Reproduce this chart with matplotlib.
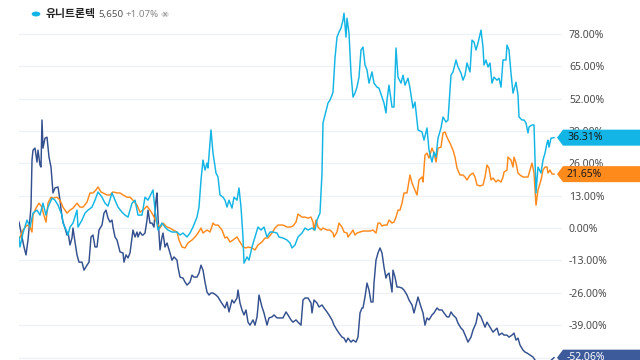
import matplotlib
matplotlib.use("Agg")
import matplotlib.pyplot as plt
from matplotlib.patches import Polygon, Circle
import numpy as np

plt.rcParams['font.family'] = ['Noto Sans CJK KR', 'DejaVu Sans']

# ---------------- data ----------------
stock_name = "유니트론텍"
stock_price = "5,650"
stock_change = "+1.07%"

y_ticks = [-52, -39, -26, -13, 0, 13, 26, 39, 52, 65, 78]

uni_days = [0, 1, 4, 8, 11, 14, 18, 21, 24, 27, 29, 33, 36, 39, 43, 44, 48, 49, 51, 54, 58, 59, 63, 66, 69,
            73, 76, 79, 83, 86, 89, 93, 96, 99, 103, 106, 109, 113, 116, 119, 123, 126, 129, 134, 136, 139,
            143, 146, 149, 153, 158, 161, 164, 168, 171, 174, 178, 180, 182, 184, 186, 188, 189, 192, 194,
            197, 199, 201, 204, 206, 208, 210, 213, 215, 218, 220, 222, 224, 225, 228, 230, 233, 236, 239,
            242, 245, 248, 251, 254, 258, 260, 264, 268, 271, 273, 276, 279, 283, 286, 289, 293, 296, 298,
            301, 303, 304, 306, 308, 309, 311, 313, 314, 316, 318, 320, 322, 324, 325, 327, 328, 330, 332,
            334, 336, 338, 340, 342, 344, 346, 348, 350, 353, 355, 358, 360, 363, 365, 367, 368, 370, 373,
            375, 377, 379, 382, 384, 386, 389, 391, 394, 396, 399, 403, 405, 408, 410, 413, 415, 417, 419,
            422, 424, 427, 429, 432, 434, 437, 439, 442, 444, 446, 448, 451, 453, 455, 457, 459, 462, 464,
            465, 467, 469, 471, 473, 475, 478, 480, 482, 484, 487, 488, 490, 492, 494, 497, 499, 500, 503,
            505, 507, 509, 510, 513, 515, 516, 517, 519, 522, 524, 526, 528, 529, 530, 532, 535]
uni_pct = [-3.6, -7.6, -2.0, 3.2, 0.4, 6.0, 7.2, 5.2, 10.0, 5.2, 8.4, 12.0, 11.2, 9.2, 5.2, 2.0, -1.6, -2.8,
           0.4, 2.0, 7.2, 0.4, 3.2, 6.0, 7.2, 8.4, 11.2, 14.5, 12.4, 10.0, 8.8, 14.1, 11.2, 8.4, 6.4, 5.2,
           4.4, 10.0, 11.2, 5.2, 5.2, 12.4, 11.2, 15.3, 7.2, -0.8, 2.0, 0.4, -0.8, -1.6, -1.6, -2.8, -2.0,
           -3.6, -2.0, 0.4, 4.4, 8.4, 19.3, 27.3, 23.3, 26.1, 24.1, 39.4, 30.1, 22.1, 20.5, 13.3, 12.4,
           11.2, 8.4, 11.2, 8.0, 12.4, 11.2, 16.1, 8.4, -3.6, -14.1, -11.6, -12.9, -7.6, -3.6, 0.4, -0.8,
           0.4, -3.6, -1.6, -1.6, -2.0, -3.6, -4.0, -4.8, -6.0, -8.0, -6.8, -3.6, -2.0, 0.0, -0.8, 0.0,
           -0.8, 3.2, 6.0, 22.1, 42.2, 45.4, 48.6, 50.2, 51.4, 53.4, 54.6, 68.3, 76.7, 78.7, 80.3, 83.5,
           86.3, 76.7, 84.3, 78.3, 62.2, 52.6, 54.2, 56.6, 60.6, 71.5, 72.7, 65.5, 63.5, 58.2, 62.7, 58.2,
           56.6, 56.2, 52.6, 50.2, 46.2, 51.4, 57.4, 48.6, 48.6, 72.3, 60.6, 58.2, 61.4, 57.4, 60.2, 56.2,
           48.2, 50.6, 39.4, 38.6, 35.3, 40.2, 31.3, 26.5, 30.5, 28.5, 36.1, 40.2, 44.6, 42.6, 43.4, 61.4,
           62.7, 67.5, 64.7, 62.2, 59.4, 61.4, 66.3, 62.7, 75.5, 74.7, 71.5, 74.3, 79.5, 72.7, 65.5, 67.5,
           64.7, 66.3, 58.2, 60.6, 59.4, 60.2, 56.6, 67.5, 67.5, 73.5, 71.5, 62.2, 54.2, 58.6, 53.4, 44.6,
           43.4, 43.4, 42.2, 38.2, 40.6, 41.4, 41.4, 27.3, 14.1, 24.5, 22.1, 27.3, 30.1, 34.1, 35.3, 32.5,
           36.1, 36.31]

org_days = [0, 4, 8, 11, 13, 14, 17, 20, 23, 24, 27, 29, 32, 34, 38, 41, 44, 48, 51, 54, 58, 61, 64, 68, 71,
            74, 77, 79, 82, 84, 88, 91, 94, 98, 101, 104, 108, 111, 114, 118, 121, 124, 128, 131, 134, 138,
            141, 144, 148, 151, 154, 158, 160, 163, 166, 169, 173, 176, 179, 182, 184, 188, 191, 194, 196,
            199, 203, 206, 208, 211, 214, 218, 221, 224, 227, 229, 233, 236, 239, 243, 246, 249, 253, 256,
            259, 264, 268, 271, 274, 277, 279, 283, 286, 289, 292, 294, 295, 297, 299, 302, 304, 308, 311,
            314, 315, 318, 320, 323, 325, 328, 329, 332, 334, 336, 338, 341, 344, 348, 351, 354, 357, 359,
            361, 363, 365, 368, 370, 373, 375, 377, 379, 381, 383, 385, 388, 389, 391, 393, 395, 398, 400,
            403, 404, 406, 408, 410, 413, 415, 417, 419, 422, 424, 426, 428, 431, 434, 436, 438, 441, 444,
            446, 448, 451, 454, 456, 458, 461, 464, 466, 468, 470, 472, 474, 477, 479, 482, 484, 485, 488,
            489, 492, 494, 495, 497, 499, 501, 504, 509, 513, 515, 517, 519, 522, 524, 526, 528, 529, 531,
            533, 535]
org_pct = [-4.8, -0.8, 1.2, 0.4, -1.6, 5.2, 8.0, 10.0, 8.4, 6.4, 2.4, 10.0, 12.4, 12.0, 12.4, 11.2, 8.4, 6.0,
           7.2, 8.0, 10.0, 8.4, 8.4, 10.4, 14.1, 14.1, 15.3, 16.5, 14.5, 14.1, 13.3, 13.3, 14.5, 14.1, 14.1,
           13.3, 12.4, 12.4, 11.2, 9.2, 6.4, 7.2, 8.8, 7.2, 5.2, 2.0, 0.0, 2.0, 0.4, 0.0, -0.8, -1.6, -4.8,
           -7.6, -8.0, -6.0, -4.8, -3.6, -2.0, 0.0, -2.0, -0.8, -1.6, 2.0, 1.2, 1.2, -0.8, -4.0, -3.6, -5.6,
           -4.8, -3.6, -5.6, -7.6, -8.0, -7.6, -8.0, -8.8, -6.8, -5.6, -4.0, -4.0, -2.0, 0.0, 1.2, 1.2, 0.4,
           0.4, 0.8, 2.4, 5.6, 4.4, 4.4, 4.0, 4.4, 2.4, -0.8, 3.2, 0.4, -0.8, 0.0, -0.8, -0.8, -2.0, -3.6,
           -1.6, 2.0, 0.4, -1.6, -2.0, -3.6, -2.0, -0.8, -2.8, -2.0, -1.6, -1.2, -1.2, -1.2, -0.8, -2.0, 2.0,
           2.0, 0.8, 1.2, 1.2, 3.2, 2.0, 2.4, 4.4, 7.2, 7.2, 10.0, 14.1, 14.1, 16.5, 21.3, 18.1, 16.1, 13.3,
           19.3, 20.5, 18.5, 29.3, 30.1, 28.1, 32.1, 30.1, 26.5, 32.1, 32.5, 38.2, 38.6, 36.5, 34.1, 31.3,
           28.5, 24.1, 21.3, 21.3, 20.5, 19.3, 21.3, 22.1, 20.5, 17.3, 16.9, 17.3, 20.5, 25.3, 24.1, 19.3,
           20.1, 18.5, 19.3, 18.5, 20.5, 22.5, 23.3, 28.5, 27.3, 24.5, 28.5, 26.1, 22.1, 21.3, 20.5, 20.5,
           26.1, 22.1, 9.2, 15.3, 19.3, 23.3, 24.5, 24.5, 22.1, 23.3, 21.7, 21.65]

nav_days = [0, 3, 5, 7, 9, 12, 13, 14, 16, 18, 19, 21, 22, 23, 24, 26, 28, 30, 32, 34, 36, 39, 41, 43, 44,
            46, 48, 49, 51, 53, 54, 56, 58, 60, 63, 65, 68, 70, 72, 74, 76, 78, 80, 83, 85, 87, 89, 91, 93,
            94, 96, 98, 101, 104, 105, 107, 109, 111, 113, 114, 116, 118, 119, 121, 123, 124, 126, 128,
            129, 131, 133, 135, 137, 138, 139, 141, 143, 144, 146, 148, 151, 153, 155, 158, 159, 161, 164,
            166, 168, 171, 173, 175, 178, 180, 182, 184, 186, 188, 190, 192, 194, 197, 199, 202, 204, 206,
            208, 210, 213, 215, 218, 219, 221, 223, 225, 227, 229, 231, 234, 236, 238, 239, 240, 243, 245,
            248, 250, 253, 255, 258, 261, 264, 267, 269, 272, 274, 277, 279, 282, 284, 286, 289, 292, 293,
            295, 298, 300, 303, 305, 308, 310, 313, 315, 318, 320, 323, 325, 327, 329, 332, 334, 337, 339,
            341, 343, 344, 346, 348, 350, 352, 354, 355, 357, 359, 361, 363, 365, 367, 368, 370, 373, 374,
            376, 378, 380, 383, 385, 388, 390, 393, 395, 397, 399, 402, 404, 406, 408, 410, 413, 415, 418,
            420, 423, 425, 428, 430, 432, 434, 437, 439, 442, 444, 447, 449, 452, 454, 457, 459, 462, 464,
            466, 468, 471, 474, 476, 478, 480, 483, 485, 488, 490, 493, 495, 497, 499, 501, 504, 506, 508,
            511, 514, 516, 519, 522, 525, 528, 531, 533, 535]
nav_pct = [2.4, -3.6, -7.6, -10.8, -4.8, 8.4, 27.3, 31.3, 32.1, 26.5, 31.3, 25.3, 24.5, 43.4, 32.1, 36.1,
           36.5, 28.5, 24.5, 14.1, 16.1, 16.5, 11.2, 4.4, 2.4, 0.0, -2.8, -1.6, -6.8, -4.0, 0.0, -5.6, -10.8,
           -13.7, -13.7, -16.9, -14.9, -13.7, -3.6, -2.8, -7.6, -7.6, -0.8, 1.2, 6.0, 7.2, 4.0, 2.4, 3.2, 0.4,
           -3.6, -4.8, -9.6, -10.0, -13.7, -10.8, -12.0, -10.0, -4.0, -0.8, -3.6, -1.6, -3.6, -1.6, -2.8,
           -2.8, -2.0, 3.2, 7.2, 2.0, 2.0, 0.4, 11.2, 14.1, 4.4, -8.8, -3.6, -2.0, -7.6, -6.0, -10.0, -12.9,
           -11.6, -12.9, -15.7, -19.7, -20.1, -21.7, -22.9, -21.7, -18.9, -19.7, -19.7, -18.1, -14.9, -16.9,
           -21.7, -25.7, -26.9, -26.1, -26.1, -26.9, -27.7, -29.7, -30.9, -32.1, -29.7, -33.7, -28.9, -30.1,
           -28.1, -24.9, -30.1, -32.9, -34.9, -32.9, -37.8, -39.0, -36.9, -39.0, -35.7, -31.7, -26.9, -31.7,
           -34.1, -39.0, -36.1, -35.7, -34.9, -36.1, -36.1, -36.1, -33.7, -34.9, -36.9, -37.8, -36.9, -37.8,
           -39.0, -28.9, -28.1, -28.1, -30.1, -34.1, -28.9, -30.1, -31.7, -30.9, -32.1, -33.7, -34.9, -36.9,
           -39.0, -41.0, -42.2, -43.8, -44.2, -45.8, -44.2, -45.8, -45.0, -45.8, -43.8, -34.1, -32.1, -32.1,
           -27.7, -22.1, -24.9, -29.7, -29.7, -22.1, -12.9, -10.0, -8.0, -10.0, -15.7, -20.1, -18.9, -18.1,
           -25.7, -16.9, -19.7, -23.7, -23.7, -24.1, -24.9, -26.9, -28.9, -30.9, -34.1, -30.9, -27.7, -31.7,
           -34.1, -39.0, -36.1, -36.9, -34.9, -34.1, -32.1, -32.9, -32.9, -34.1, -35.7, -35.7, -33.7, -34.9,
           -36.1, -38.2, -40.2, -41.0, -43.8, -45.8, -43.8, -41.0, -38.2, -34.1, -35.7, -37.8, -39.8, -37.8,
           -39.8, -41.8, -41.0, -40.2, -43.0, -42.2, -43.0, -43.0, -43.8, -43.0, -42.2, -45.0, -44.2, -47.0,
           -49.0, -49.8, -50.2, -51.0, -51.8, -53.0, -55.0, -56.0, -55.5, -54.0, -53.5, -52.8, -52.06]

C_UNI = "#12b5e5"
C_ORG = "#ff8a1c"
C_NAV = "#34508f"

# ---------------- figure ----------------
W, H = 640, 360
fig = plt.figure(figsize=(W / 100, H / 100), dpi=100)
fig.patch.set_facecolor("white")

ax_left, ax_right = 19, 562
ax = fig.add_axes([ax_left / W, 0, (ax_right - ax_left) / W, 1])
ax.set_facecolor("white")

for v in y_ticks:
    ax.axhline(v, color="#eef1f5", lw=1.0, zorder=0)

ax.plot(nav_days, nav_pct, color=C_NAV, lw=1.05, zorder=3)
ax.plot(org_days, org_pct, color=C_ORG, lw=1.05, zorder=4)
ax.plot(uni_days, uni_pct, color=C_UNI, lw=1.05, zorder=5)

ax.set_xlim(0, 543)
ax.set_ylim(-53.0, 91.6)
for s in ax.spines.values():
    s.set_visible(False)
ax.set_xticks([])
ax.set_yticks(y_ticks)
ax.set_yticklabels([f"{v:.2f}%" for v in y_ticks])
ax.yaxis.tick_right()
ax.tick_params(axis="y", length=0, pad=5, labelsize=7.5, labelcolor="#4a4a4a")
for lab in ax.get_yticklabels():
    lab.set_fontfamily(["Noto Sans", "DejaVu Sans"])

# ---------------- value tags ----------------
fig.canvas.draw()
inv = fig.transFigure.inverted()


def tag(value, color, txtcolor):
    ypix = ax.transData.transform((0, value))[1]
    h = 8
    pts = [(557, ypix), (563, ypix + h), (W + 5, ypix + h), (W + 5, ypix - h), (563, ypix - h)]
    pts_fig = [inv.transform(p) for p in pts]
    poly = Polygon(pts_fig, closed=True, transform=fig.transFigure, facecolor=color,
                   edgecolor="none", zorder=10)
    fig.patches.append(poly)
    fx, fy = inv.transform((567, ypix))
    fig.text(fx, fy, f"{value:.2f}%", color=txtcolor, fontsize=7.5, va="center", ha="left",
             family=["Noto Sans", "DejaVu Sans"], zorder=11)


tag(uni_pct[-1], C_UNI, "#1a1a1a")
tag(org_pct[-1], C_ORG, "#1a1a1a")
tag(nav_pct[-1], "#3d5a9a", "white")

# ---------------- header ----------------
def fxy(x, y):
    return x / W, 1 - y / H


cx, cy = fxy(36, 14)
fig.patches.append(Circle((cx, cy), 0.0068, transform=fig.transFigure,
                          facecolor=C_UNI, edgecolor="none", zorder=10))

tx, ty = fxy(46, 14.5)
fig.text(tx, ty, stock_name, fontsize=7.8, fontweight="bold", color="#222222",
         va="center", ha="left", family=["Noto Sans CJK KR", "DejaVu Sans"])
tx, ty = fxy(98, 14.5)
fig.text(tx, ty, stock_price, fontsize=7, color="#555555", va="center", ha="left",
         family=["Noto Sans", "DejaVu Sans"])
tx, ty = fxy(126, 14.5)
fig.text(tx, ty, stock_change, fontsize=7, color="#888888", va="center", ha="left",
         family=["Noto Sans", "DejaVu Sans"])
cx, cy = fxy(165, 14.5)
fig.patches.append(Circle((cx, cy), 0.0064, transform=fig.transFigure,
                          facecolor="#e3e3e3", edgecolor="none", zorder=10))
fig.text(cx, cy, "×", fontsize=5.5, color="#8a8a8a", va="center", ha="center",
         family=["DejaVu Sans"], zorder=11)

fig.savefig("out.png", dpi=100, facecolor="white")
